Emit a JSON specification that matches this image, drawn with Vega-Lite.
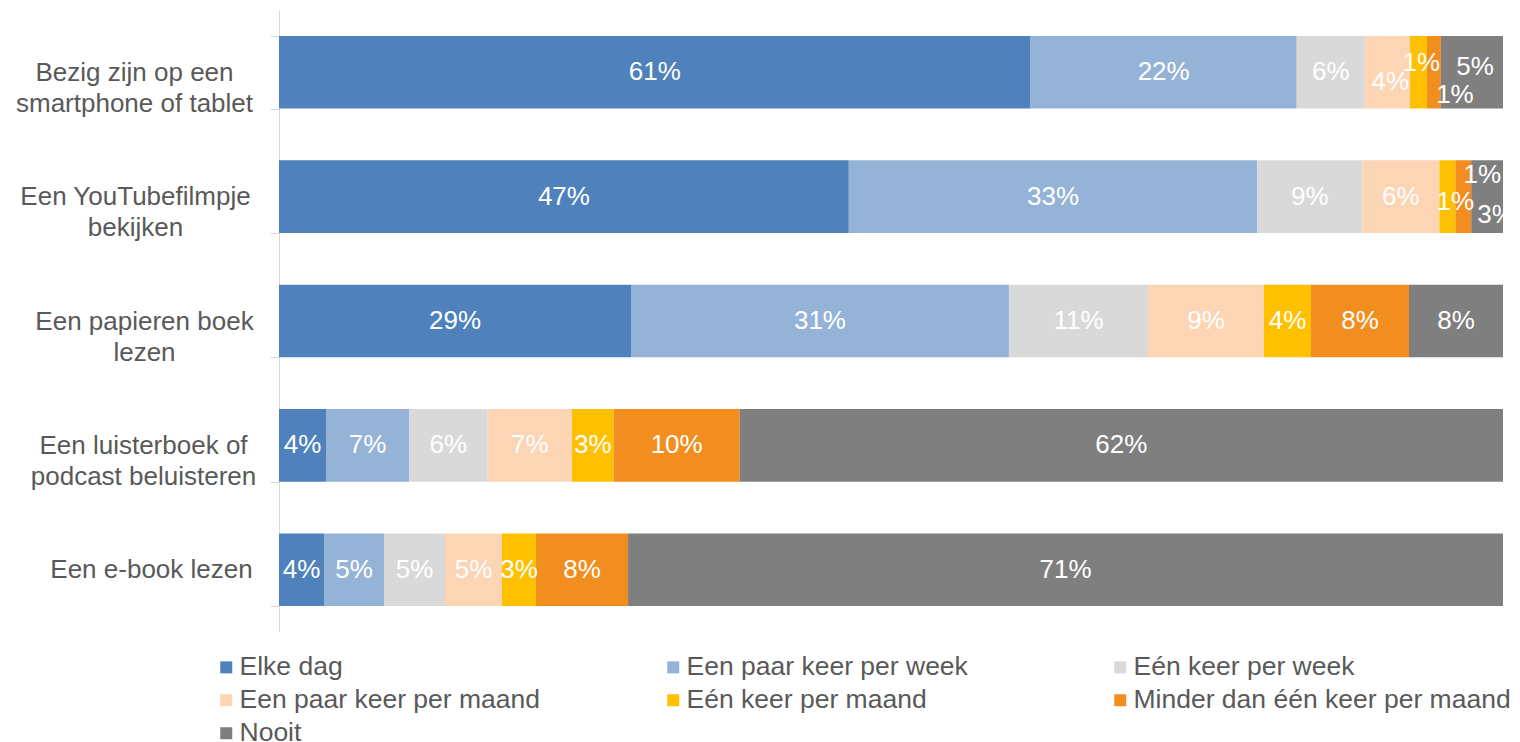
{
  "$schema": "https://vega.github.io/schema/vega-lite/v6.json",
  "width": 1224,
  "height": 622,
  "autosize": {"type": "none"},
  "padding": {"left": 279, "top": 10, "right": 17, "bottom": 110},
  "config": {"view": {"stroke": null}, "font": "Liberation Sans"},
  "data": {
    "values": [
      {"item": "Bezig zijn op een smartphone of tablet", "freq": "Elke dag", "v": 0.6136},
      {"item": "Bezig zijn op een smartphone of tablet", "freq": "Een paar keer per week", "v": 0.2173},
      {"item": "Bezig zijn op een smartphone of tablet", "freq": "Eén keer per week", "v": 0.0556},
      {"item": "Bezig zijn op een smartphone of tablet", "freq": "Een paar keer per maand", "v": 0.0368},
      {"item": "Bezig zijn op een smartphone of tablet", "freq": "Eén keer per maand", "v": 0.0139},
      {"item": "Bezig zijn op een smartphone of tablet", "freq": "Minder dan één keer per maand", "v": 0.0114},
      {"item": "Bezig zijn op een smartphone of tablet", "freq": "Nooit", "v": 0.0507},
      {"item": "Een YouTubefilmpje bekijken", "freq": "Elke dag", "v": 0.466},
      {"item": "Een YouTubefilmpje bekijken", "freq": "Een paar keer per week", "v": 0.334},
      {"item": "Een YouTubefilmpje bekijken", "freq": "Eén keer per week", "v": 0.086},
      {"item": "Een YouTubefilmpje bekijken", "freq": "Een paar keer per maand", "v": 0.063},
      {"item": "Een YouTubefilmpje bekijken", "freq": "Eén keer per maand", "v": 0.013},
      {"item": "Een YouTubefilmpje bekijken", "freq": "Minder dan één keer per maand", "v": 0.013},
      {"item": "Een YouTubefilmpje bekijken", "freq": "Nooit", "v": 0.026},
      {"item": "Een papieren boek lezen", "freq": "Elke dag", "v": 0.2876},
      {"item": "Een papieren boek lezen", "freq": "Een paar keer per week", "v": 0.3088},
      {"item": "Een papieren boek lezen", "freq": "Eén keer per week", "v": 0.1136},
      {"item": "Een papieren boek lezen", "freq": "Een paar keer per maand", "v": 0.0948},
      {"item": "Een papieren boek lezen", "freq": "Eén keer per maand", "v": 0.0384},
      {"item": "Een papieren boek lezen", "freq": "Minder dan één keer per maand", "v": 0.0801},
      {"item": "Een papieren boek lezen", "freq": "Nooit", "v": 0.0768},
      {"item": "Een luisterboek of podcast beluisteren", "freq": "Elke dag", "v": 0.0384},
      {"item": "Een luisterboek of podcast beluisteren", "freq": "Een paar keer per week", "v": 0.068},
      {"item": "Een luisterboek of podcast beluisteren", "freq": "Eén keer per week", "v": 0.064},
      {"item": "Een luisterboek of podcast beluisteren", "freq": "Een paar keer per maand", "v": 0.069},
      {"item": "Een luisterboek of podcast beluisteren", "freq": "Eén keer per maand", "v": 0.034},
      {"item": "Een luisterboek of podcast beluisteren", "freq": "Minder dan één keer per maand", "v": 0.103},
      {"item": "Een luisterboek of podcast beluisteren", "freq": "Nooit", "v": 0.6236},
      {"item": "Een e-book lezen", "freq": "Elke dag", "v": 0.0368},
      {"item": "Een e-book lezen", "freq": "Een paar keer per week", "v": 0.049},
      {"item": "Een e-book lezen", "freq": "Eén keer per week", "v": 0.0498},
      {"item": "Een e-book lezen", "freq": "Een paar keer per maand", "v": 0.0466},
      {"item": "Een e-book lezen", "freq": "Eén keer per maand", "v": 0.0278},
      {"item": "Een e-book lezen", "freq": "Minder dan één keer per maand", "v": 0.0752},
      {"item": "Een e-book lezen", "freq": "Nooit", "v": 0.7149}
    ]
  },
  "transform": [
    {"calculate": "indexof(['Elke dag','Een paar keer per week','Eén keer per week','Een paar keer per maand','Eén keer per maand','Minder dan één keer per maand','Nooit'], datum.freq)", "as": "k"},
    {"stack": "v", "groupby": ["item"], "sort": [{"field": "k", "order": "ascending"}], "offset": "normalize", "as": ["x0", "x1"]},
    {"calculate": "(datum.x0 + datum.x1) / 2", "as": "xm"}
  ],
  "encoding": {
    "y": {
      "field": "item",
      "type": "nominal",
      "sort": ["Bezig zijn op een smartphone of tablet", "Een YouTubefilmpje bekijken", "Een papieren boek lezen", "Een luisterboek of podcast beluisteren", "Een e-book lezen"],
      "scale": {"paddingInner": 0.416, "paddingOuter": 0.208},
      "axis": {
        "title": null,
        "domainColor": "#D9D9D9",
        "tickColor": "#D9D9D9",
        "tickSize": 9,
        "tickBand": "extent",
        "labelFontSize": 26,
        "labelColor": "#595959",
        "labelFont": "Liberation Sans",
        "labelLineHeight": 31,
        "labelAlign": "center",
        "labelBaseline": "middle",
        "labelLimit": 0,
        "labelPadding": {"condition": [
          {"test": "datum.value == 'Een e-book lezen'", "value": 119},
          {"test": "datum.value == 'Een papieren boek lezen'", "value": 126},
          {"test": "datum.value == 'Een luisterboek of podcast beluisteren'", "value": 127},
          {"test": "datum.value == 'Een YouTubefilmpje bekijken'", "value": 135}
        ], "value": 136},
        "labelExpr": "datum.value == 'Bezig zijn op een smartphone of tablet' ? ['Bezig zijn op een', 'smartphone of tablet'] : datum.value == 'Een YouTubefilmpje bekijken' ? ['Een YouTubefilmpje', 'bekijken'] : datum.value == 'Een papieren boek lezen' ? ['Een papieren boek', 'lezen'] : datum.value == 'Een luisterboek of podcast beluisteren' ? ['Een luisterboek of', 'podcast beluisteren'] : datum.value"
      }
    }
  },
  "layer": [
    {
      "mark": {"type": "bar"},
      "encoding": {
        "x": {"field": "x0", "type": "quantitative", "scale": {"domain": [0, 1]}, "axis": null},
        "x2": {"field": "x1"},
        "color": {
          "field": "freq",
          "type": "nominal",
          "scale": {
            "domain": ["Elke dag", "Een paar keer per week", "Eén keer per week", "Een paar keer per maand", "Eén keer per maand", "Minder dan één keer per maand", "Nooit"],
            "range": ["#4F81BD", "#95B3D7", "#D9D9D9", "#FCD5B5", "#FFC000", "#F28E20", "#7F7F7F"]
          },
          "legend": {
            "title": null,
            "orient": "none",
            "direction": "horizontal",
            "legendX": -66,
            "legendY": 644,
            "columns": 3,
            "gridAlign": "all",
            "columnPadding": 43,
            "rowPadding": 6,
            "symbolType": "square",
            "symbolSize": 144,
            "symbolStrokeWidth": 0,
            "labelFontSize": 26.5,
            "labelColor": "#595959",
            "labelFont": "Liberation Sans",
            "labelOffset": 0,
            "labelLimit": 0
          }
        }
      }
    },
    {
      "transform": [{"filter": "!((datum.item == 'Bezig zijn op een smartphone of tablet' && datum.k >= 3) || (datum.item == 'Een YouTubefilmpje bekijken' && datum.k >= 4))"}],
      "mark": {"type": "text", "color": "white", "fontSize": 26, "font": "Liberation Sans"},
      "encoding": {
        "x": {"field": "xm", "type": "quantitative", "scale": {"domain": [0, 1]}},
        "text": {"field": "v", "type": "quantitative", "format": ".0%"}
      }
    },
    {
      "transform": [{"filter": "datum.item == 'Bezig zijn op een smartphone of tablet' && datum.k == 3"}],
      "mark": {"type": "text", "color": "white", "fontSize": 26, "font": "Liberation Sans", "dx": 3, "dy": 10},
      "encoding": {
        "x": {"field": "xm", "type": "quantitative", "scale": {"domain": [0, 1]}},
        "text": {"field": "v", "type": "quantitative", "format": ".0%"}
      }
    },
    {
      "transform": [{"filter": "datum.item == 'Bezig zijn op een smartphone of tablet' && datum.k == 4"}],
      "mark": {"type": "text", "color": "white", "fontSize": 26, "font": "Liberation Sans", "dx": 3, "dy": -9},
      "encoding": {
        "x": {"field": "xm", "type": "quantitative", "scale": {"domain": [0, 1]}},
        "text": {"field": "v", "type": "quantitative", "format": ".0%"}
      }
    },
    {
      "transform": [{"filter": "datum.item == 'Bezig zijn op een smartphone of tablet' && datum.k == 5"}],
      "mark": {"type": "text", "color": "white", "fontSize": 26, "font": "Liberation Sans", "dx": 21, "dy": 23},
      "encoding": {
        "x": {"field": "xm", "type": "quantitative", "scale": {"domain": [0, 1]}},
        "text": {"field": "v", "type": "quantitative", "format": ".0%"}
      }
    },
    {
      "transform": [{"filter": "datum.item == 'Bezig zijn op een smartphone of tablet' && datum.k == 6"}],
      "mark": {"type": "text", "color": "white", "fontSize": 26, "font": "Liberation Sans", "dx": 3, "dy": -5},
      "encoding": {
        "x": {"field": "xm", "type": "quantitative", "scale": {"domain": [0, 1]}},
        "text": {"field": "v", "type": "quantitative", "format": ".0%"}
      }
    },
    {
      "transform": [{"filter": "datum.item == 'Een YouTubefilmpje bekijken' && datum.k == 4"}],
      "mark": {"type": "text", "color": "white", "fontSize": 26, "font": "Liberation Sans", "dx": 8, "dy": 5},
      "encoding": {
        "x": {"field": "xm", "type": "quantitative", "scale": {"domain": [0, 1]}},
        "text": {"field": "v", "type": "quantitative", "format": ".0%"}
      }
    },
    {
      "transform": [{"filter": "datum.item == 'Een YouTubefilmpje bekijken' && datum.k == 5"}],
      "mark": {"type": "text", "color": "white", "fontSize": 26, "font": "Liberation Sans", "dx": 19, "dy": -22},
      "encoding": {
        "x": {"field": "xm", "type": "quantitative", "scale": {"domain": [0, 1]}},
        "text": {"field": "v", "type": "quantitative", "format": ".0%"}
      }
    },
    {
      "transform": [{"filter": "datum.item == 'Een YouTubefilmpje bekijken' && datum.k == 6"}],
      "mark": {"type": "text", "color": "white", "fontSize": 26, "font": "Liberation Sans", "dx": 9, "dy": 18, "clip": true},
      "encoding": {
        "x": {"field": "xm", "type": "quantitative", "scale": {"domain": [0, 1]}},
        "text": {"field": "v", "type": "quantitative", "format": ".0%"}
      }
    }
  ]
}
